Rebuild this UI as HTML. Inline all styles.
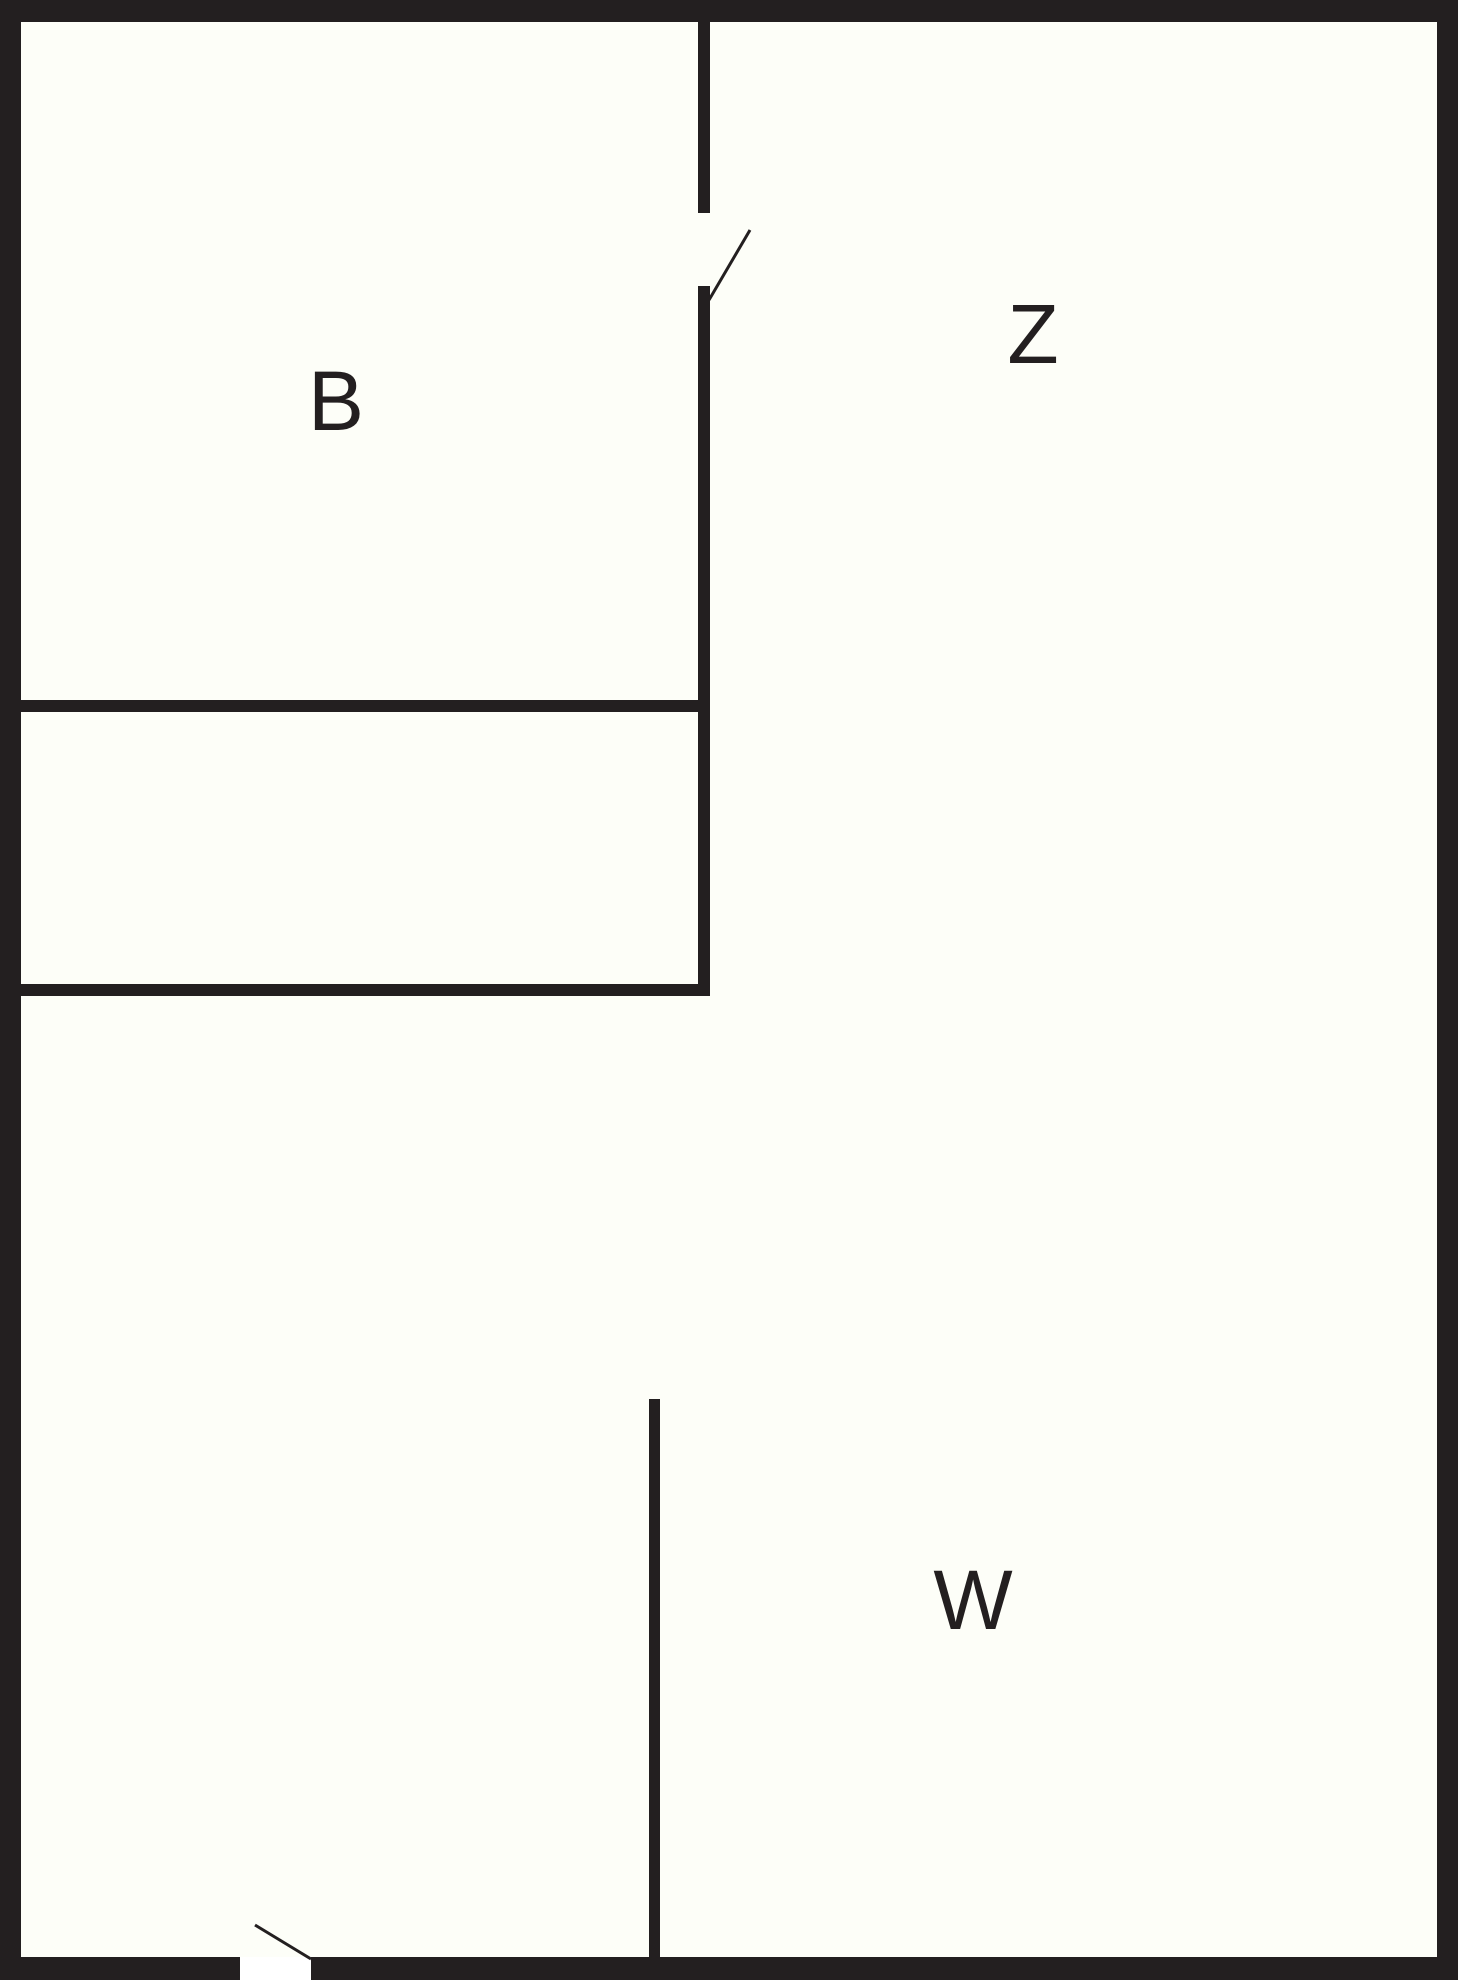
<!DOCTYPE html>
<html><head><style>
html,body{margin:0;padding:0;background:#fdfef8;}
svg{display:block}
text{font-family:"Liberation Sans",sans-serif;font-size:84px;fill:#231f20;text-anchor:middle}
</style></head><body>
<svg width="1458" height="1980" viewBox="0 0 1458 1980" xmlns="http://www.w3.org/2000/svg">
<rect width="1458" height="1980" fill="#fdfef8"/>
<g fill="#231f20">
<rect x="0" y="0" width="1458" height="22"/>
<rect x="0" y="0" width="21" height="1980"/>
<rect x="1437" y="0" width="21" height="1980"/>
<rect x="0" y="1957" width="240" height="23"/>
<rect x="311" y="1957" width="1147" height="23"/>
<rect x="698" y="0" width="12" height="213"/>
<rect x="698" y="286" width="12" height="710"/>
<rect x="0" y="700" width="710" height="12"/>
<rect x="0" y="984" width="710" height="12"/>
<rect x="649" y="1399" width="11" height="570"/>
</g>
<rect x="240" y="1957" width="71" height="23" fill="#ffffff"/>
<line x1="709" y1="300" x2="750" y2="230" stroke="#231f20" stroke-width="3"/>
<line x1="255" y1="1925" x2="311" y2="1959" stroke="#231f20" stroke-width="3"/>
<text x="336" y="430">B</text>
<text x="1033" y="363">Z</text>
<text x="973" y="1629">W</text>
</svg>
</body></html>
